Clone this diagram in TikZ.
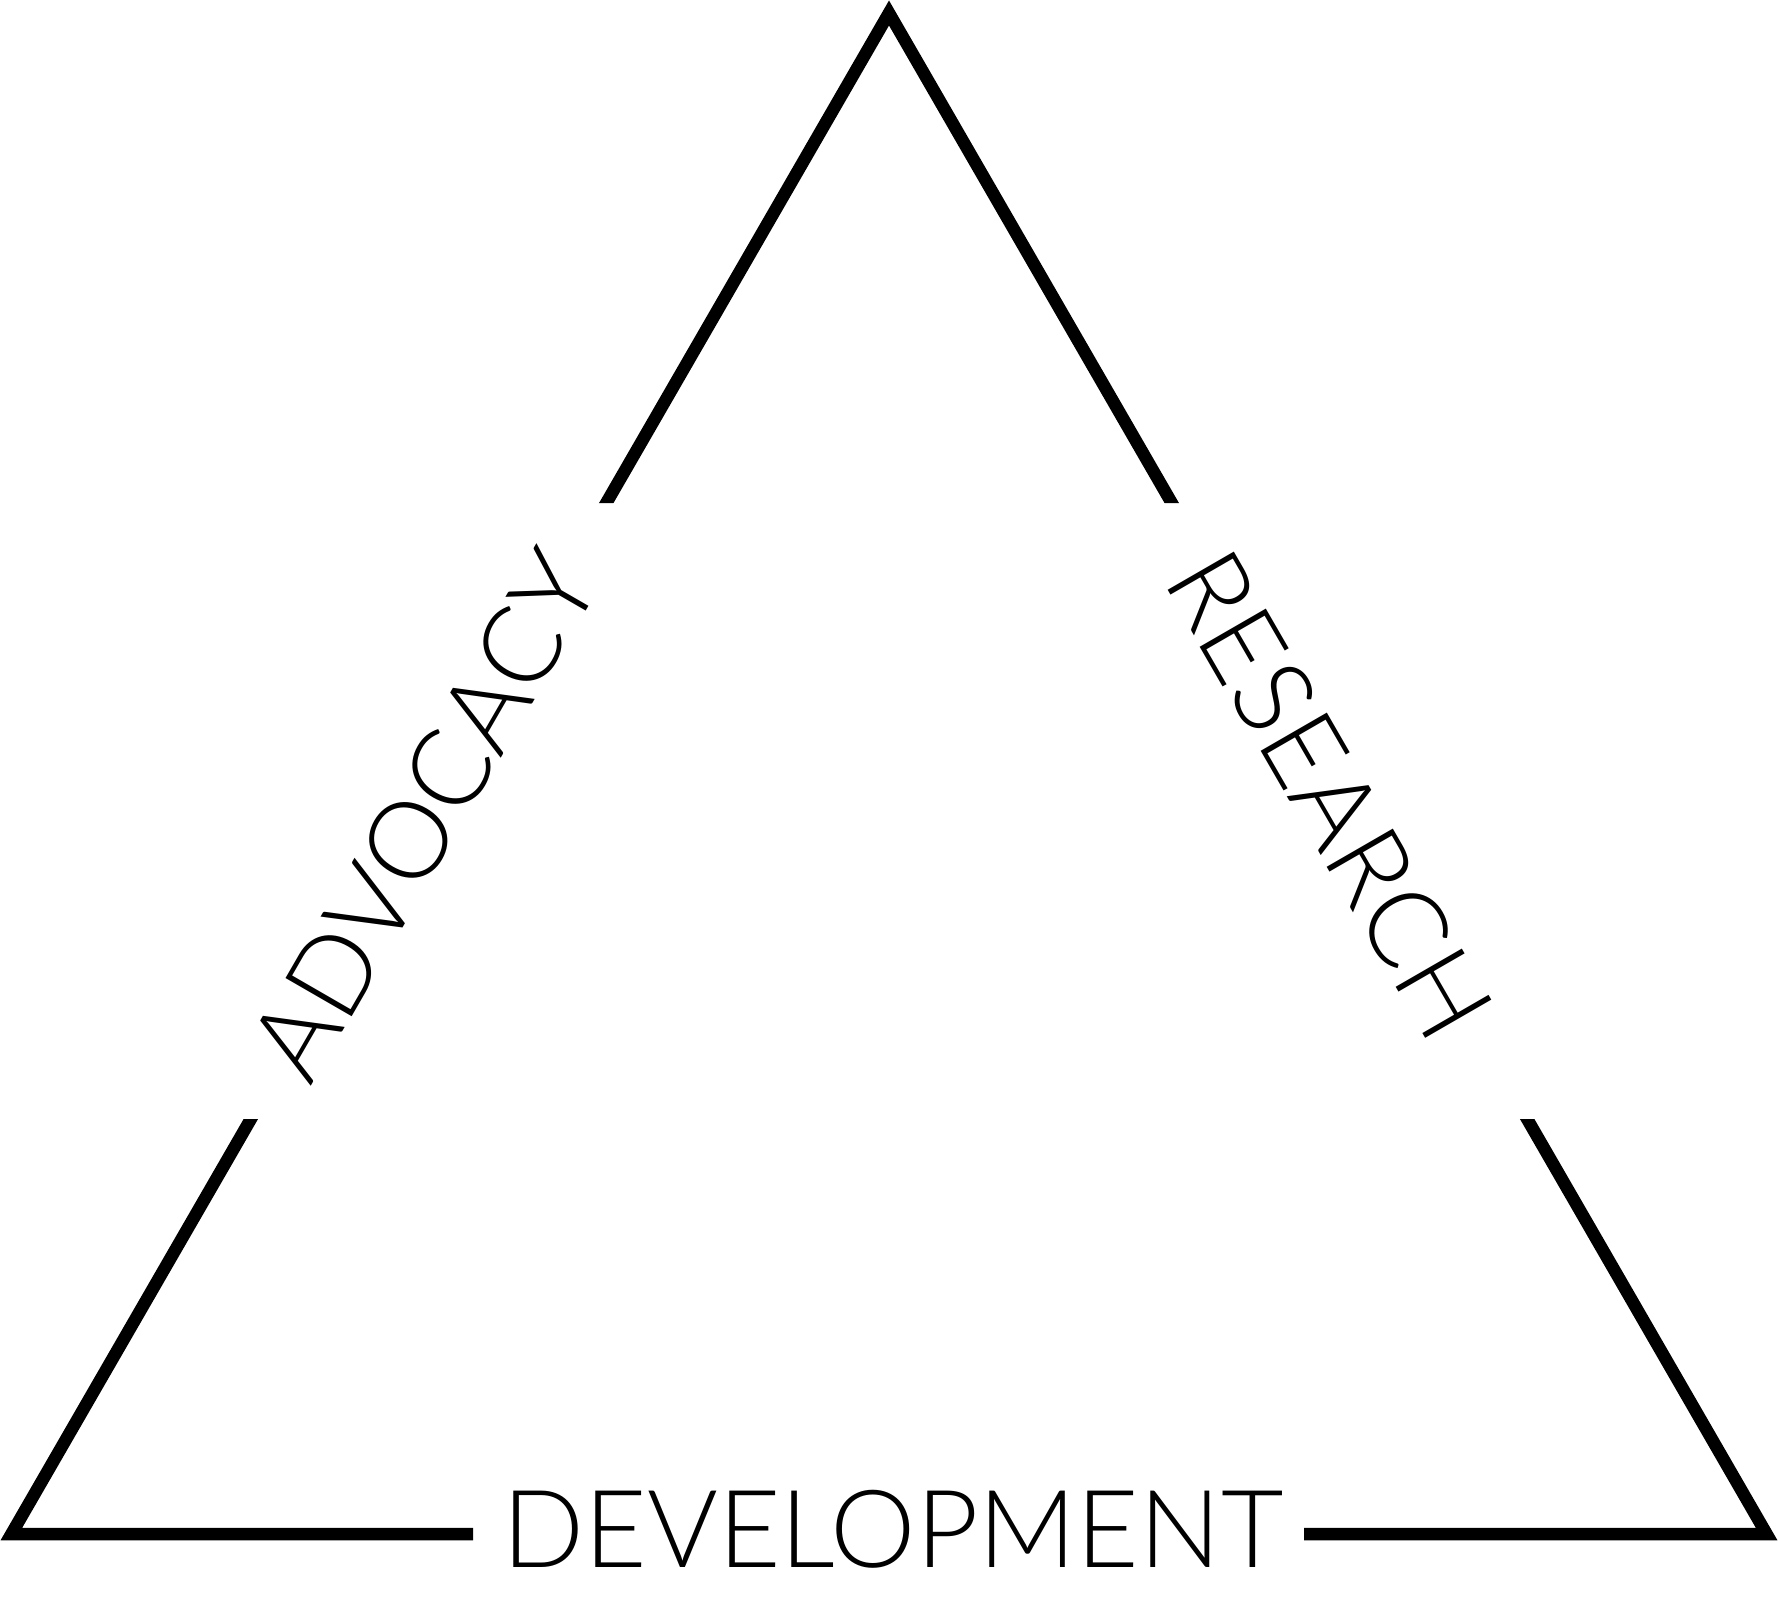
\documentclass[tikz,border=0pt]{standalone}
\usepackage{fontspec}
\newfontfamily\labelfont{Lato Light}
\begin{document}
\begin{tikzpicture}[x=1pt,y=-1pt,
  side/.style={line width=12.5pt, line join=miter, miter limit=10, draw=black},
  lbl/.style={font=\labelfont\fontsize{108}{108}\selectfont, inner sep=0pt, text=black}]
\useasboundingbox (0,0) rectangle (1778,1602);
\coordinate (apex) at (889,13);
\coordinate (bl) at (11.4,1534);
\coordinate (br) at (1766.6,1534);
\begin{scope}[even odd rule]
\clip (0,0) rectangle (1778,1602)
  (0,503) rectangle (889,1119)
  (889,503) rectangle (1778,1119)
  (473,1420) rectangle (1304,1602);
\draw[side] (apex) -- (br) -- (bl) -- cycle;
\end{scope}
\node[lbl] (dev) at (893,1529) {DEVELOPMENT};
\node[lbl, rotate=60] (adv) at (424,815) {ADVOCACY};
\node[lbl, rotate=-60] (res) at (1330,795) {RESEARCH};
\end{tikzpicture}
\end{document}
